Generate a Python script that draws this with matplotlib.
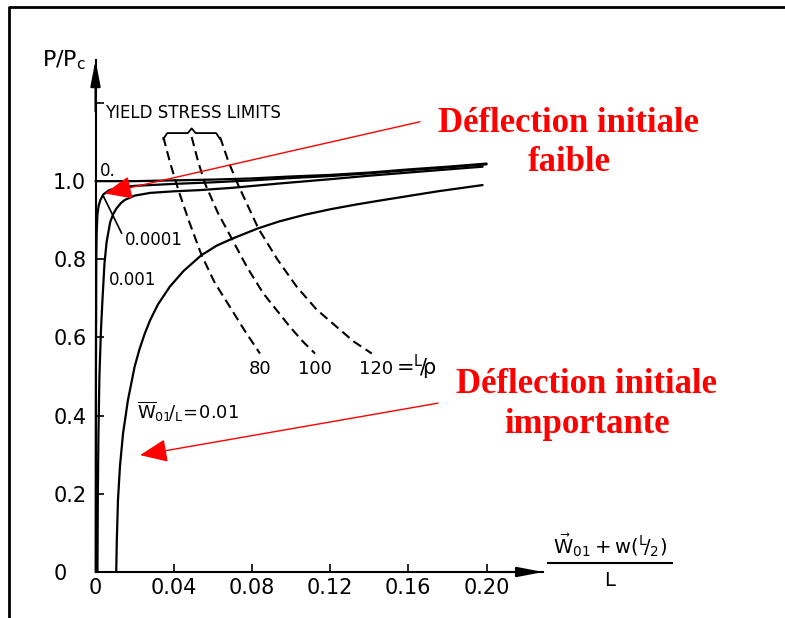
import matplotlib.pyplot as plt
from matplotlib.lines import Line2D

plt.rcParams['font.family'] = ['DejaVu Sans']
plt.rcParams['mathtext.default'] = 'regular'

# P/Pc against (W01 + w(L/2)) / L, one curve per initial deflection W01/L
defl_0 = [0.0, 0.02, 0.04, 0.06, 0.08, 0.10, 0.12, 0.14, 0.16, 0.18, 0.20]
load_0 = [1.0, 1.0, 1.002, 1.004, 1.007, 1.012, 1.016, 1.022, 1.030, 1.037, 1.045]

defl_00001 = [0.0001, 0.0002, 0.0004, 0.0006, 0.001, 0.0016, 0.0025, 0.004, 0.007,
              0.012, 0.02, 0.04, 0.06, 0.08, 0.10, 0.12, 0.14, 0.16, 0.18, 0.20]
load_00001 = [0.0, 0.5, 0.8, 0.87, 0.915, 0.937, 0.952, 0.966, 0.977,
              0.984, 0.988, 0.993, 0.997, 1.002, 1.008, 1.013, 1.020, 1.028, 1.035, 1.043]

defl_0001 = [0.001, 0.0012, 0.0015, 0.002, 0.0028, 0.0036, 0.0046, 0.0057, 0.0075,
             0.009, 0.0107, 0.013, 0.015, 0.02, 0.028, 0.04, 0.053, 0.07, 0.094, 0.12,
             0.14, 0.16, 0.18, 0.198]
load_0001 = [0.0, 0.2, 0.35, 0.5, 0.62, 0.70, 0.79, 0.845, 0.895,
             0.915, 0.93, 0.944, 0.952, 0.963, 0.970, 0.974, 0.977, 0.983, 0.994, 1.005,
             1.014, 1.022, 1.030, 1.037]

defl_001 = [0.0106, 0.0109, 0.0115, 0.0125, 0.0141, 0.0166, 0.020, 0.0225, 0.0252,
            0.028, 0.032, 0.038, 0.045, 0.054, 0.062, 0.070, 0.083, 0.094, 0.107,
            0.12, 0.133, 0.145, 0.16, 0.175, 0.198]
load_001 = [0.0, 0.08, 0.184, 0.27, 0.355, 0.44, 0.525, 0.57, 0.61,
            0.645, 0.685, 0.73, 0.77, 0.81, 0.835, 0.853, 0.879, 0.897, 0.914,
            0.928, 0.94, 0.950, 0.962, 0.974, 0.99]

# yield stress limits for each slenderness L/rho
slenderness = ['80', '100', '120']
yield_x = [[0.0347, 0.038, 0.0424, 0.048, 0.0543, 0.061, 0.0688, 0.076, 0.0841],
           [0.0492, 0.0525, 0.056, 0.0625, 0.0697, 0.0775, 0.0858, 0.0995, 0.106, 0.1123],
           [0.0637, 0.068, 0.073, 0.0833, 0.093, 0.1029, 0.113, 0.1234, 0.132, 0.1413]]
yield_y = [[1.113, 1.05, 0.977, 0.895, 0.81, 0.74, 0.678, 0.62, 0.559],
           [1.113, 1.05, 0.994, 0.92, 0.853, 0.78, 0.713, 0.627, 0.59, 0.559],
           [1.113, 1.05, 0.99, 0.879, 0.80, 0.73, 0.672, 0.627, 0.59, 0.559]]

x_ticks = [0, 0.04, 0.08, 0.12, 0.16, 0.20]
x_tick_labels = ['0', '0.04', '0.08', '0.12', '0.16', '0.20']
y_ticks = [0, 0.2, 0.4, 0.6, 0.8, 1.0, 1.2]
y_tick_labels = ['0', '0.2', '0.4', '0.6', '0.8', '1.0', '']

W, H = 785, 618
fig = plt.figure(figsize=(W / 100, H / 100), dpi=100)
ax = fig.add_axes([95.5 / W, 46 / H, 447.7 / W, 512 / H])
ax.set_xlim(0, 0.229)
ax.set_ylim(0, 1.31)

for s in ['top', 'right']:
    ax.spines[s].set_visible(False)
for s in ['left', 'bottom']:
    ax.spines[s].set_linewidth(1.5)

ax.set_xticks(x_ticks)
ax.set_xticklabels(x_tick_labels)
ax.set_yticks(y_ticks)
ax.set_yticklabels(y_tick_labels)
ax.tick_params(direction='in', length=6, width=1.2, labelsize=15)
ax.tick_params(axis='x', pad=4)
ax.tick_params(axis='y', pad=30.5)
for lab in ax.get_yticklabels():
    lab.set_horizontalalignment('left')

# axis arrows
arr = dict(arrowstyle='-|>,head_length=1.3,head_width=0.25', color='black',
           lw=1.5, mutation_scale=12, shrinkA=0, shrinkB=0)
ax.annotate('', xy=(1.0, 0), xytext=(0.9, 0), xycoords='axes fraction', arrowprops=arr)
ax.annotate('', xy=(0, 1.0), xytext=(0, 0.9), xycoords='axes fraction', arrowprops=arr)

# deflection curves
for xs, ys in [(defl_0, load_0), (defl_00001, load_00001),
               (defl_0001, load_0001), (defl_001, load_001)]:
    ax.plot(xs, ys, color='black', lw=1.6, clip_on=False,
            solid_capstyle='round', solid_joinstyle='round')

# yield stress limits, dashed
for xs, ys in zip(yield_x, yield_y):
    line, = ax.plot(xs, ys, color='black', lw=1.5, clip_on=False)
    line.set_dashes((4.5, 2.5))

for lab, xs, ys in zip(slenderness, yield_x, yield_y):
    ax.text(xs[-1] + (0.002 if lab == '120' else 0), ys[-1] - 0.04, lab,
            ha='center', va='center', fontsize=13)
ax.text(yield_x[2][-1] + 0.0125, yield_y[2][-1] - 0.035, r'=${}^{L}\!/\!\rho$',
        ha='left', va='center', fontsize=15)

# brace over the three yield lines
bx = [yield_x[0][0], yield_x[1][0], yield_x[2][0]]
by = yield_y[0][0]
ax.plot([bx[0], bx[0] + 0.002, bx[1] - 0.002, bx[1], bx[1] + 0.002, bx[2] - 0.002, bx[2]],
        [by - 0.005, by + 0.01, by + 0.01, by + 0.022, by + 0.01, by + 0.01, by - 0.005],
        color='black', lw=1.3, clip_on=False)
ax.text((bx[0] + bx[2]) / 2 + 0.0005, 1.174, 'YIELD STRESS LIMITS',
        ha='center', va='center', fontsize=12)

# curve labels
ax.text(0.0023, 1.025, '0.', ha='left', va='center', fontsize=12)
ax.annotate('0.0001', xy=(0.004, 0.962), xytext=(0.0151, 0.849),
            ha='left', va='center', fontsize=12,
            arrowprops=dict(arrowstyle='-', lw=1.2, color='black',
                            shrinkA=1, shrinkB=0, relpos=(0, 0.5)))
ax.text(0.0069, 0.747, '0.001', ha='left', va='center', fontsize=12)
ax.text(0.0212, 0.41, r'$\overline{W}_{01}\!/_{L}\!=\!0.01$', ha='left', va='center',
        fontsize=13)

# axis titles
fig.text(64 / W, 1 - 60 / H, r'P/P$_c$', ha='center', va='center', fontsize=16)
fig.text(610 / W, 1 - 545 / H, r'$\vec{W}_{01} + w(^{L}\!/_{2})$',
         ha='center', va='center', fontsize=14)
fig.add_artist(Line2D([548 / W, 672 / W], [1 - 563 / H, 1 - 563 / H],
                      color='black', lw=1.5))
fig.text(610 / W, 1 - 581 / H, 'L', ha='center', va='center', fontsize=14)

# red annotations
red_font = dict(family='Liberation Serif', weight='bold', color='red', fontsize=25,
                ha='center', va='baseline')
fig.text(569 / W, 1 - 131.7 / H, 'Déflection initiale', **red_font)
fig.text(569 / W, 1 - 170.7 / H, 'faible', **red_font)
fig.text(587 / W, 1 - 393.3 / H, 'Déflection initiale', **red_font)
fig.text(587 / W, 1 - 433.3 / H, 'importante', **red_font)

red_arr = dict(arrowstyle='-|>,head_length=0.85,head_width=0.36', color='red',
               lw=1.0, mutation_scale=20, shrinkA=0, shrinkB=0)
ax.annotate('', xy=(0.0047, 0.9685), xytext=(0.166, 1.152), arrowprops=red_arr,
            annotation_clip=False)
ax.annotate('', xy=(0.0228, 0.299), xytext=(0.1752, 0.432), arrowprops=red_arr,
            annotation_clip=False)

# frame
fig.add_artist(Line2D([9 / W, 9 / W, 1.0], [0.0, 1 - 7 / H, 1 - 7 / H],
                      color='black', lw=2))

fig.savefig('out.png', dpi=100)
